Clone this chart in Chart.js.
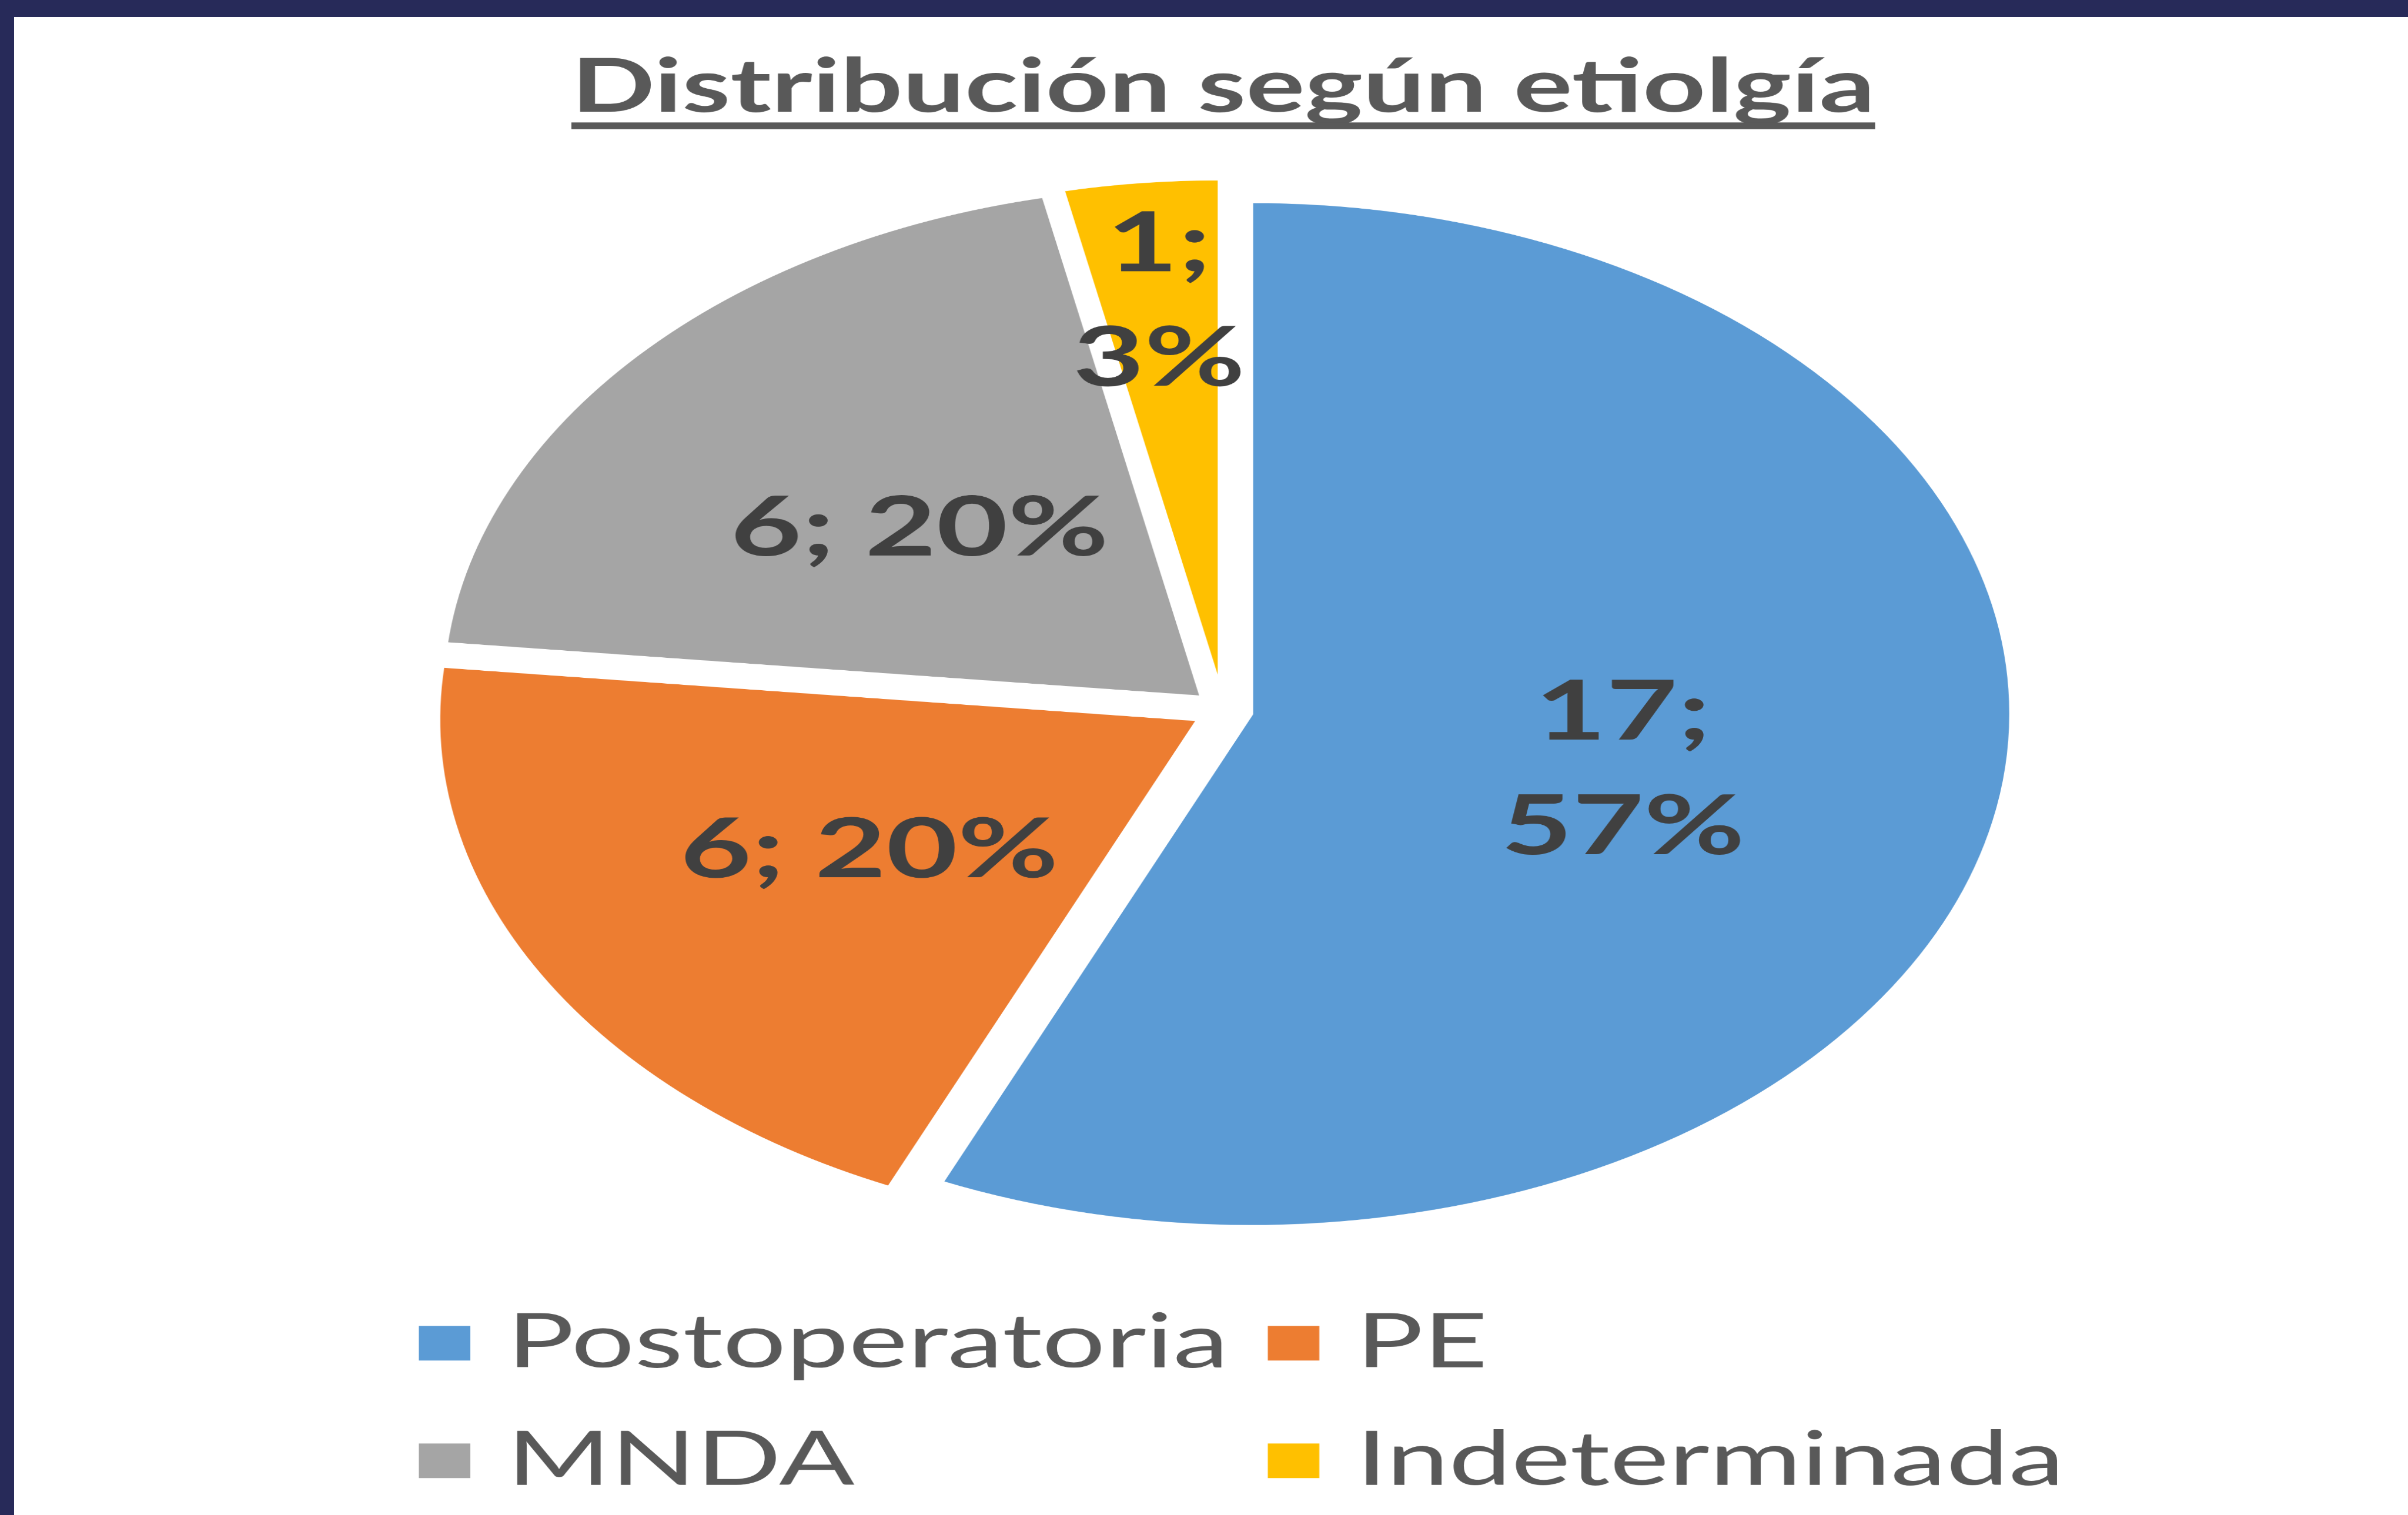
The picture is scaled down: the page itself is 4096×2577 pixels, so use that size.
<!DOCTYPE html>
<html>
<head>
<meta charset="utf-8">
<title>Distribución según etiolgía</title>
<script src="https://cdn.jsdelivr.net/npm/chart.js@4.4.1/dist/chart.umd.min.js"></script>
<style>
  html, body { margin: 0; padding: 0; background: #fff; overflow: hidden; }
  #marco { position: absolute; left: 0; top: 0; width: 4096px; height: 2577px; box-sizing: border-box;
           border-top: 29px solid #272a59; border-left: 24px solid #272a59; background: #fff; }
  /* the original chart is stretched sideways, so the whole canvas is widened */
  #caja { position: absolute; left: 0; top: 0; width: 2758px; height: 2577px;
          transform: scaleX(1.48513); transform-origin: 0 0; }
</style>
</head>
<body>
<div id="marco"></div>
<div id="caja"><canvas id="pie-etiologia"></canvas></div>
<script>
const titulo = "Distribución según etiolgía";
const categorias = ["Postoperatoria", "PE", "MNDA", "Indeterminada"];
const casos = [17, 6, 6, 1];
const colores = ["#5b9bd5", "#ed7d31", "#a5a5a5", "#ffc000"];

const separacion = 32; // how far every slice is pulled out, px

// exploded pie: move each arc out along its own bisector
// (Chart.js "offset" also enlarges the arc, which the original does not)
const explosion = {
    id: 'explosion',
    beforeDatasetsDraw(chart) {
        const a = chart.chartArea;
        const cx = (a.left + a.right) / 2;
        const cy = (a.top + a.bottom) / 2;
        chart.getDatasetMeta(0).data.forEach(arc => {
            const mid = (arc.startAngle + arc.endAngle) / 2;
            arc.x = cx + Math.cos(mid) * separacion;
            arc.y = cy + Math.sin(mid) * separacion;
        });
    }
};

// "n; p%" labels inside the slices
const etiquetas = {
    id: 'etiquetas',
    afterDatasetsDraw(chart, args, opts) {
        const ctx = chart.ctx;
        const meta = chart.getDatasetMeta(0);
        const total = casos.reduce((a, b) => a + b, 0);
        ctx.save();
        ctx.font = Chart.helpers.toFont(opts.font).string;
        ctx.fillStyle = opts.color;
        ctx.textAlign = 'center';
        ctx.textBaseline = 'alphabetic';
        meta.data.forEach((arc, i) => {
            const p = arc.getProps(['x', 'y', 'startAngle', 'endAngle', 'outerRadius'], true);
            const mid = (p.startAngle + p.endAngle) / 2;
            const frac = casos[i] / total;
            const r = p.outerRadius * (frac < 0.05 ? opts.smallRadius : opts.radius);
            const x = p.x + Math.cos(mid) * r;
            const y = p.y + Math.sin(mid) * r;
            const pct = Math.round(frac * 100) + '%';
            const lines = opts.wrap.includes(i) ? [casos[i] + ';', pct] : [casos[i] + '; ' + pct];
            const y0 = y + opts.capHeight / 2 - (lines.length - 1) * opts.lineGap / 2;
            lines.forEach((s, k) => ctx.fillText(s, x, y0 + k * opts.lineGap));
        });
        ctx.restore();
    }
};

// legend in two columns under the pie
const leyenda = {
    id: 'leyenda',
    afterDraw(chart, args, opts) {
        const ctx = chart.ctx;
        const a = chart.chartArea;
        ctx.save();
        ctx.font = Chart.helpers.toFont(opts.font).string;
        ctx.textAlign = 'left';
        ctx.textBaseline = 'alphabetic';
        const cols = opts.columns;
        const rows = Math.ceil(categorias.length / cols);
        const colW = [];
        for (let c = 0; c < cols; c++) {
            let m = 0;
            for (let r = 0; r < rows; r++) {
                const i = r * cols + c;
                if (i < categorias.length) m = Math.max(m, ctx.measureText(categorias[i]).width);
            }
            colW.push(opts.box + opts.boxGap + m);
        }
        const ancho = colW.reduce((s, w) => s + w, 0) + opts.colGap * (cols - 1);
        const x0 = (a.left + a.right) / 2 - ancho / 2 + opts.shift;
        categorias.forEach((lab, i) => {
            const c = i % cols, r = Math.floor(i / cols);
            let x = x0;
            for (let k = 0; k < c; k++) x += colW[k] + opts.colGap;
            const base = a.bottom + opts.top + r * opts.rowGap;
            ctx.fillStyle = colores[i];
            ctx.fillRect(x, base - opts.boxRise - opts.box, opts.box, opts.box);
            ctx.fillStyle = opts.color;
            ctx.fillText(lab, x + opts.box + opts.boxGap, base);
        });
        ctx.restore();
    }
};

// underline for the title
const subrayado = {
    id: 'subrayado',
    afterDraw(chart, args, opts) {
        const t = chart.titleBlock;
        const to = chart.options.plugins.title;
        const f = Chart.helpers.toFont(to.font);
        const pad = Chart.helpers.toPadding(to.padding);
        const ctx = chart.ctx;
        ctx.save();
        ctx.font = f.string;
        ctx.textBaseline = 'middle';
        const mid = t.top + pad.top + f.lineHeight / 2;
        const base = mid + ctx.measureText('D').actualBoundingBoxDescent;
        const w = ctx.measureText(to.text).width;
        const cx = (t.left + t.right) / 2;
        ctx.fillStyle = to.color;
        ctx.fillRect(cx - w / 2, base + opts.gap, w, opts.thickness);
        ctx.restore();
    }
};

new Chart(document.getElementById('pie-etiologia'), {
    type: 'pie',
    data: {
        labels: categorias,
        datasets: [{
            data: casos,
            backgroundColor: colores,
            borderColor: '#ffffff',
            borderWidth: 6,
            radius: 872
        }]
    },
    options: {
        responsive: true,
        maintainAspectRatio: false,
        animation: false,
        devicePixelRatio: 1.5,
        events: [],
        layout: { padding: { left: 44, top: 0, right: 0, bottom: 397 } },
        plugins: {
            legend: { display: false },
            tooltip: { enabled: false },
            title: {
                display: true,
                text: titulo,
                color: '#595959',
                font: { family: 'Lato', weight: 'bold', size: 126, lineHeight: 1.2 },
                padding: { top: 74, bottom: 10 }
            },
            subrayado: { gap: 18, thickness: 11.5 },
            etiquetas: {
                font: { family: 'Lato', weight: 'bold', size: 141 },
                color: '#404040',
                capHeight: 101,
                lineGap: 195,
                radius: 0.5,
                smallRadius: 0.77,
                wrap: [0, 3]
            },
            leyenda: {
                font: { family: 'Lato', size: 128 },
                color: '#595959',
                columns: 2,
                box: 59,
                boxRise: 11,
                boxGap: 42,
                colGap: 45,
                shift: 21,
                top: 145,
                rowGap: 200
            }
        }
    },
    plugins: [explosion, etiquetas, leyenda, subrayado]
});
</script>
</body>
</html>
